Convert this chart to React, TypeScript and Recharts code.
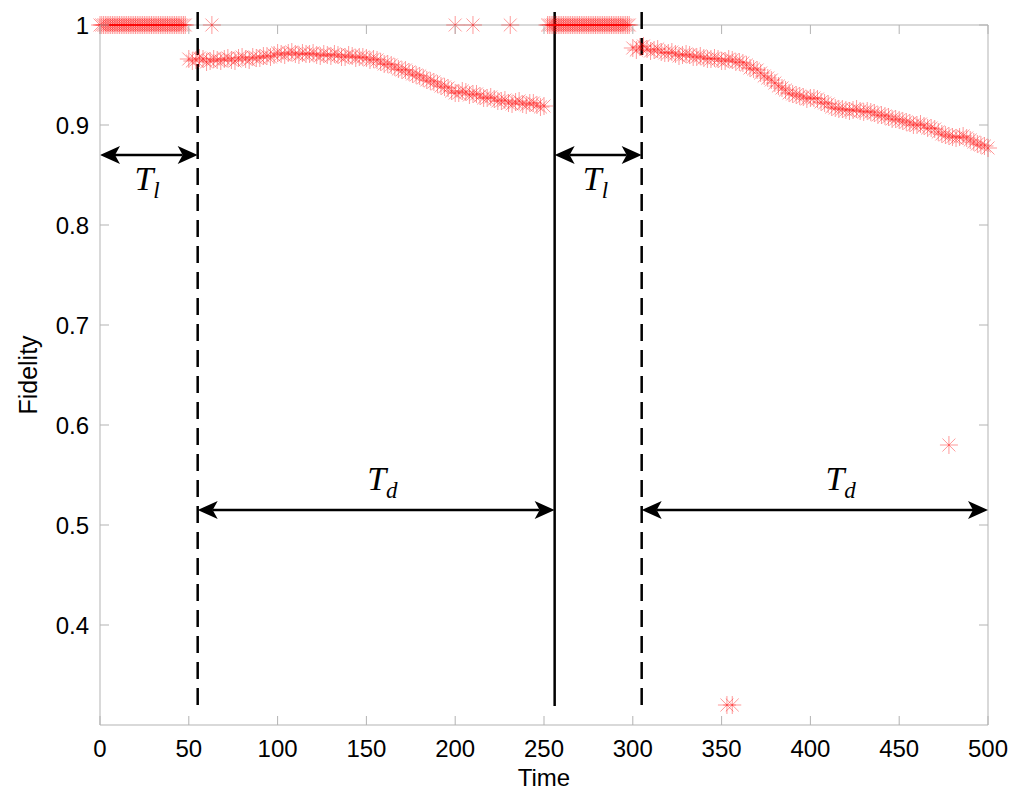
import {
  ScatterChart,
  Scatter,
  XAxis,
  YAxis,
  ReferenceLine,
  ReferenceDot,
} from "recharts";

const timeTicks = [0, 50, 100, 150, 200, 250, 300, 350, 400, 450, 500];
const fidelityTicks = [0.4, 0.5, 0.6, 0.7, 0.8, 0.9, 1];

// loading phases: fidelity stays at 1
const loadTimes1 = [
  0, 1, 2, 3, 4, 5, 6, 7, 8, 9, 10, 11, 12, 13, 14, 15, 16, 17, 18, 19, 20,
  21, 22, 23, 24, 25, 26, 27, 28, 29, 30, 31, 32, 33, 34, 35, 36, 37, 38, 39,
  40, 41, 42, 43, 44, 45, 46, 47, 48,
];
const loadTimes2 = [
  252, 253, 254, 255, 256, 257, 258, 259, 260, 261, 262, 263, 264, 265, 266,
  267, 268, 269, 270, 271, 272, 273, 274, 275, 276, 277, 278, 279, 280, 281,
  282, 283, 284, 285, 286, 287, 288, 289, 290, 291, 292, 293, 294, 295, 296,
  297, 298,
];

// decay phases (two interleaved sample sets)
const decayTimes1 = [
  50, 54, 58, 62, 66, 70, 74, 78, 82, 86, 90, 94, 98, 102, 106, 110, 114, 118,
  122, 126, 130, 134, 138, 142, 146, 150, 154, 158, 162, 166, 170, 174, 178,
  182, 186, 190, 194, 198, 202, 206, 210, 214, 218, 222, 226, 230, 234, 238,
  242, 246, 250,
];
const decayFidelity1 = [
  0.966, 0.965, 0.966, 0.964, 0.965, 0.966, 0.965, 0.967, 0.966, 0.968, 0.967,
  0.969, 0.97, 0.971, 0.972, 0.971, 0.972, 0.971, 0.97, 0.971, 0.969, 0.97,
  0.968, 0.969, 0.968, 0.967, 0.966, 0.963, 0.961, 0.958, 0.955, 0.953, 0.95,
  0.947, 0.944, 0.941, 0.938, 0.934, 0.932, 0.933, 0.931, 0.929, 0.927, 0.926,
  0.924, 0.922, 0.923, 0.921, 0.922, 0.92, 0.919,
];
const decayTimes1b = [
  52, 56, 60, 64, 68, 72, 76, 80, 84, 88, 92, 96, 100, 104, 108, 112, 116, 120,
  124, 128, 132, 136, 140, 144, 148, 152, 156, 160, 164, 168, 172, 176, 180,
  184, 188, 192, 196, 200, 204, 208, 212, 216, 220, 224, 228, 232, 236, 240,
  244, 248,
];
const decayFidelity1b = [
  0.964, 0.967, 0.963, 0.966, 0.964, 0.967, 0.964, 0.968, 0.965, 0.967, 0.969,
  0.968, 0.972, 0.97, 0.973, 0.97, 0.971, 0.972, 0.969, 0.97, 0.971, 0.968,
  0.97, 0.967, 0.968, 0.965, 0.965, 0.961, 0.96, 0.956, 0.955, 0.951, 0.949,
  0.945, 0.943, 0.939, 0.937, 0.932, 0.934, 0.93, 0.931, 0.927, 0.928, 0.924,
  0.925, 0.921, 0.924, 0.92, 0.922, 0.918,
];
const decayTimes2 = [
  300, 304, 308, 312, 316, 320, 324, 328, 332, 336, 340, 344, 348, 352, 356,
  360, 364, 368, 372, 376, 380, 384, 388, 392, 396, 400, 404, 408, 412, 416,
  420, 424, 428, 432, 436, 440, 444, 448, 452, 456, 460, 464, 468, 472, 476,
  480, 484, 488, 492, 496, 500,
];
const decayFidelity2 = [
  0.977, 0.978, 0.976, 0.975, 0.973, 0.972, 0.971, 0.97, 0.97, 0.968, 0.967,
  0.966, 0.966, 0.964, 0.965, 0.963, 0.96, 0.956, 0.952, 0.947, 0.942, 0.937,
  0.932, 0.93, 0.928, 0.927, 0.926, 0.922, 0.918, 0.916, 0.915, 0.915, 0.914,
  0.914, 0.912, 0.91, 0.908, 0.906, 0.904, 0.902, 0.9, 0.899, 0.897, 0.893,
  0.89, 0.888, 0.888, 0.887, 0.883, 0.88, 0.877,
];
const decayTimes2b = [
  302, 306, 310, 314, 318, 322, 326, 330, 334, 338, 342, 346, 350, 354, 358,
  362, 366, 370, 374, 378, 382, 386, 390, 394, 398, 402, 406, 410, 414, 418,
  422, 426, 430, 434, 438, 442, 446, 450, 454, 458, 462, 466, 470, 474, 478,
  482, 486, 490, 494, 498,
];
const decayFidelity2b = [
  0.975, 0.979, 0.974, 0.976, 0.972, 0.973, 0.969, 0.971, 0.968, 0.969, 0.966,
  0.967, 0.964, 0.966, 0.963, 0.962, 0.957, 0.955, 0.949, 0.945, 0.939, 0.935,
  0.931, 0.929, 0.926, 0.927, 0.923, 0.921, 0.917, 0.916, 0.914, 0.916, 0.913,
  0.913, 0.91, 0.909, 0.906, 0.905, 0.903, 0.9, 0.901, 0.897, 0.896, 0.891,
  0.889, 0.887, 0.889, 0.885, 0.881, 0.879,
];

const outlierTimes = [63, 200, 210, 231, 353, 356, 478];
const outlierFidelity = [1, 1, 1, 1, 0.32, 0.32, 0.58];

const points = [
  ...loadTimes1.map((t) => ({ t, f: 1 })),
  ...decayTimes1.map((t, i) => ({ t, f: decayFidelity1[i] })),
  ...decayTimes1b.map((t, i) => ({ t, f: decayFidelity1b[i] })),
  ...loadTimes2.map((t) => ({ t, f: 1 })),
  ...decayTimes2.map((t, i) => ({ t, f: decayFidelity2[i] })),
  ...decayTimes2b.map((t, i) => ({ t, f: decayFidelity2b[i] })),
  ...outlierTimes.map((t, i) => ({ t, f: outlierFidelity[i] })),
];

// annotations
const phaseLines = [
  { x: 55, top: 1.013, bottom: 0.312, dashed: true },
  { x: 256, top: 1.013, bottom: 0.319, dashed: false },
  { x: 305, top: 1.013, bottom: 0.312, dashed: true },
];
const arrows = [
  { from: 0, to: 55, y: 0.87 },
  { from: 256, to: 305, y: 0.87 },
  { from: 55, to: 256, y: 0.515 },
  { from: 305, to: 500, y: 0.515 },
];
const labels = [
  { x: 26.5, y: 0.835, sub: "l" },
  { x: 279, y: 0.835, sub: "l" },
  { x: 159, y: 0.535, sub: "d" },
  { x: 417, y: 0.535, sub: "d" },
];

const W = 1024;
const H = 805;
const margin = { top: 25, right: 36, left: 0, bottom: 0 };
const xAxisHeight = 80;
const yAxisWidth = 100;
const plotTop = margin.top;
const plotBottom = H - xAxisHeight;
const plotLeft = yAxisWidth;
const plotRight = W - margin.right;

const axisColor = "#b3b3b3";
const tickStyle = {
  fontFamily: "'Liberation Sans', Arial, Helvetica, sans-serif",
  fontSize: 24,
  fill: "#000",
};

function TimeTick(props: any) {
  const { x, payload } = props;
  return (
    <g>
      <line x1={x} y1={plotBottom} x2={x} y2={plotBottom - 9} stroke={axisColor} />
      <line x1={x} y1={plotTop} x2={x} y2={plotTop + 9} stroke={axisColor} />
      <text x={x} y={plotBottom + 32} textAnchor="middle" style={tickStyle}>
        {payload.value}
      </text>
    </g>
  );
}

function FidelityTick(props: any) {
  const { y, payload } = props;
  return (
    <g>
      <line x1={plotLeft} y1={y} x2={plotLeft + 9} y2={y} stroke={axisColor} />
      <line x1={plotRight} y1={y} x2={plotRight - 9} y2={y} stroke={axisColor} />
      <text x={plotLeft - 11} y={y + 8.5} textAnchor="end" style={tickStyle}>
        {payload.value}
      </text>
    </g>
  );
}

function Star(props: any) {
  const { cx, cy } = props;
  if (cx == null || cy == null) return null;
  const r = 9;
  const d = r * 0.72;
  return (
    <g stroke="#ff0000" strokeOpacity={0.4} strokeWidth={1}>
      <line x1={cx - r} y1={cy} x2={cx + r} y2={cy} />
      <line x1={cx} y1={cy - r} x2={cx} y2={cy + r} />
      <line x1={cx - d} y1={cy - d} x2={cx + d} y2={cy + d} />
      <line x1={cx - d} y1={cy + d} x2={cx + d} y2={cy - d} />
    </g>
  );
}

function DoubleArrow(props: any) {
  const { x1, y1, x2 } = props;
  const L = 20;
  const hw = 9;
  const N = 5;
  const y = y1;
  return (
    <g>
      <line x1={x1 + L - N} y1={y} x2={x2 - L + N} y2={y} stroke="#000" strokeWidth={2.5} />
      <polygon
        points={`${x1},${y} ${x1 + L},${y - hw} ${x1 + L - N},${y} ${x1 + L},${y + hw}`}
        fill="#000"
      />
      <polygon
        points={`${x2},${y} ${x2 - L},${y - hw} ${x2 - L + N},${y} ${x2 - L},${y + hw}`}
        fill="#000"
      />
    </g>
  );
}

function PhaseLabel(sub: string) {
  return (props: any) => (
    <text
      x={props.cx}
      y={props.cy}
      textAnchor="middle"
      fontFamily="'Liberation Serif', 'Times New Roman', serif"
      fontStyle="italic"
      fill="#000"
    >
      <tspan fontSize={34}>T</tspan>
      <tspan fontSize={23} dy={8}>
        {sub}
      </tspan>
    </text>
  );
}

export default function App() {
  return (
    <div
      style={{
        position: "absolute",
        left: 0,
        top: 0,
        width: W,
        height: H,
        background: "#fff",
      }}
    >
      <ScatterChart width={W} height={H} margin={margin}>
        <XAxis
          dataKey="t"
          type="number"
          domain={[0, 500]}
          ticks={timeTicks}
          height={xAxisHeight}
          stroke={axisColor}
          tickLine={false}
          tickSize={0}
          tickMargin={0}
          tick={<TimeTick />}
          label={{
            value: "Time",
            position: "insideBottom",
            offset: 19,
            style: tickStyle,
          }}
        />
        <YAxis
          dataKey="f"
          type="number"
          domain={[0.3, 1]}
          ticks={fidelityTicks}
          width={yAxisWidth}
          stroke={axisColor}
          tickLine={false}
          tickSize={0}
          tickMargin={0}
          tick={<FidelityTick />}
          label={{
            value: "Fidelity",
            angle: -90,
            position: "insideLeft",
            offset: 28,
            style: { ...tickStyle, fontSize: 25, textAnchor: "middle" },
          }}
        />
        <ReferenceLine y={1} stroke={axisColor} ifOverflow="visible" />
        <ReferenceLine x={500} stroke={axisColor} ifOverflow="visible" />
        <Scatter data={points} shape={<Star />} isAnimationActive={false} />
        {phaseLines.map((p) => (
          <ReferenceLine
            key={p.x}
            segment={[
              { x: p.x, y: p.top },
              { x: p.x, y: p.bottom },
            ]}
            ifOverflow="visible"
            stroke="#000"
            strokeWidth={2.5}
            strokeDasharray={p.dashed ? "17 9" : undefined}
          />
        ))}
        {arrows.map((a) => (
          <ReferenceLine
            key={`${a.from}-${a.to}`}
            segment={[
              { x: a.from, y: a.y },
              { x: a.to, y: a.y },
            ]}
            ifOverflow="visible"
            shape={(p: any) => <DoubleArrow {...p} />}
          />
        ))}
        {labels.map((l) => (
          <ReferenceDot
            key={`${l.x}-${l.y}`}
            x={l.x}
            y={l.y}
            ifOverflow="visible"
            shape={PhaseLabel(l.sub)}
          />
        ))}
      </ScatterChart>
    </div>
  );
}
